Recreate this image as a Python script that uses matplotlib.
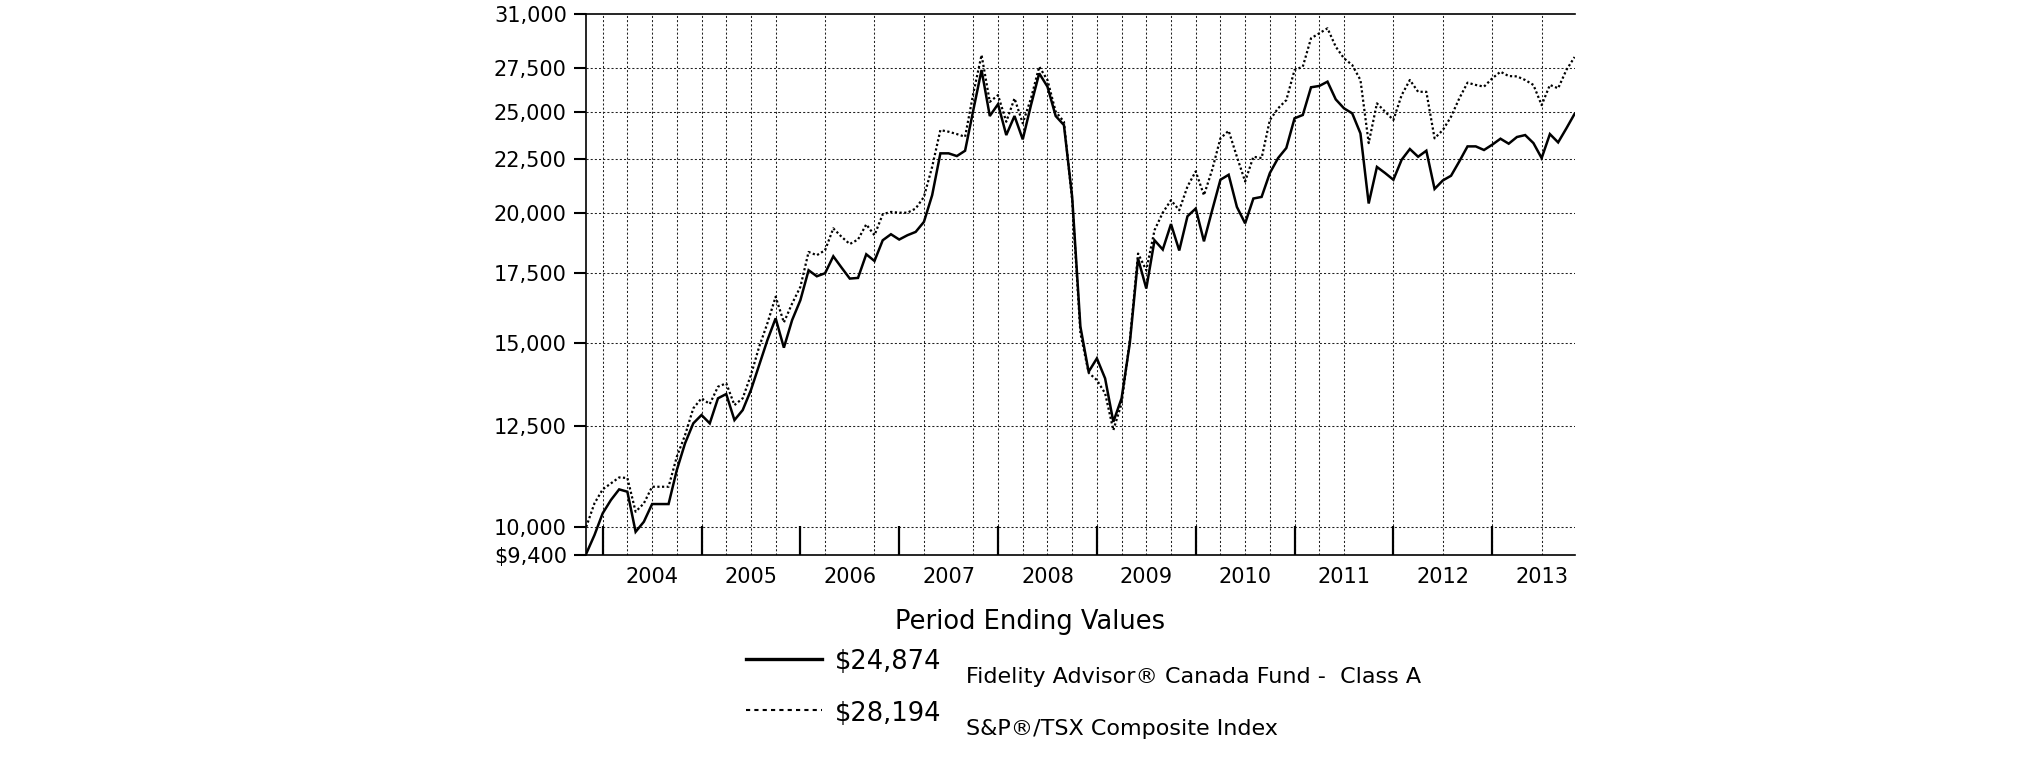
import matplotlib
matplotlib.use("Agg")
import matplotlib.pyplot as plt
from matplotlib.lines import Line2D
from matplotlib.ticker import FixedLocator, FixedFormatter, NullLocator
import numpy as np

plt.rcParams["font.family"] = ["DejaVu Sans"]

# monthly values, Oct 2003 .. Oct 2013 (month index 0..120)
fund = [9425, 9821, 10305, 10612, 10864, 10808, 9893, 10115, 10518, 10518,
        10518, 11337, 12025, 12567, 12800, 12567, 13281, 13407, 12658, 12940,
        13525, 14291, 15100, 15843, 14850, 15782, 16488, 17616, 17383, 17500,
        18166, 17719, 17295, 17320, 18247, 17980, 18820, 19072, 18850, 19030,
        19170, 19597, 20785, 22797, 22797, 22661, 22929, 25082, 27397, 24754,
        25412, 23735, 24754, 23510, 25357, 27196, 26410, 24754, 24264, 20708,
        15554, 14081, 14503, 13877, 12610, 13281, 15000, 18074, 16921, 18820,
        18439, 19505, 18400, 19843, 20184, 18776, 20110, 21507, 21745, 20255,
        19535, 20635, 20708, 21826, 22560, 23067, 24630, 24810, 26373, 26450,
        26703, 25680, 25177, 24900, 23823, 20410, 22124, 21826, 21507, 22476,
        23016, 22627, 22929, 21076, 21475, 21698, 22393, 23150, 23150, 22966,
        23236, 23545, 23288, 23634, 23735, 23320, 22560, 23787, 23355, 24087,
        24874]
index = [10000, 10533, 10864, 11008, 11154, 11140, 10342, 10533, 10927, 10927,
         10927, 11675, 12245, 12989, 13281, 13113, 13625, 13728, 13084, 13281,
         13981, 14880, 15671, 16616, 15700, 16368, 16980, 18340, 18210, 18410,
         19320, 18965, 18664, 18850, 19491, 19030, 19932, 20034, 20000, 20000,
         20184, 20708, 22126, 23998, 23910, 23787, 23645, 26023, 28319, 25540,
         25920, 24443, 25735, 24356, 25735, 27600, 26800, 24990, 24443, 20560,
         15330, 14050, 13826, 13427, 12380, 13128, 15100, 18276, 17616, 19243,
         20000, 20560, 20110, 21190, 21907, 20785, 21990, 23565, 23960, 22627,
         21426, 22627, 22560, 24537, 25177, 25640, 27397, 27600, 29382, 29707,
         30036, 28843, 28113, 27700, 26800, 23320, 25454, 24990, 24537, 25920,
         26800, 26112, 26112, 23565, 23998, 24717, 25735, 26642, 26509, 26410,
         26897, 27294, 27033, 27015, 26800, 26509, 25357, 26509, 26314, 27397,
         28194]

years = ["2004", "2005", "2006", "2007", "2008", "2009", "2010", "2011", "2012", "2013"]
year_ticks = [2, 14, 26, 38, 50, 62, 74, 86, 98, 110]      # December month-ends
year_mid = [8, 20, 32, 44, 56, 68, 80, 92, 104, 116]
grid_months = [2, 5, 8, 11, 14, 17, 20, 23, 29, 35, 41, 47, 50, 53, 56, 59, 62,
               65, 68, 71, 74, 77, 80, 83, 86, 89, 92, 98, 104, 110, 116]
yticks = [9400, 10000, 12500, 15000, 17500, 20000, 22500, 25000, 27500, 31000]
ylabels = ["$9,400", "10,000", "12,500", "15,000", "17,500", "20,000",
           "22,500", "25,000", "27,500", "31,000"]
grid_vals = [10000, 12500, 15000, 17500, 20000, 22500, 25000, 27500]

W, H = 2025, 761
fig = plt.figure(figsize=(W / 100, H / 100), dpi=100)
ax = fig.add_axes([586.2 / W, 1 - 555 / H, 988.4 / W, 541 / H])

months = np.arange(len(fund))
ax.set_yscale("log")
ax.set_xlim(0, 120)
ax.set_ylim(9400, 31000)

gs = dict(color="#222222", lw=0.75, ls=(0, (2, 2)), zorder=1)
for v in grid_vals:
    ax.axhline(v, **gs)
for m in grid_months:
    ax.axvline(m, **gs)

ax.plot(months, fund, color="black", lw=1.8, zorder=3, solid_joinstyle="miter")
ax.plot(months, index, color="black", lw=1.6, ls=(0, (1, 1.1)), zorder=4)

ax.yaxis.set_major_locator(FixedLocator(yticks))
ax.yaxis.set_major_formatter(FixedFormatter(ylabels))
ax.yaxis.set_minor_locator(NullLocator())
ax.tick_params(axis="y", which="major", direction="out", length=9, width=1.5,
               pad=5, labelsize=15)

ax.set_xticks(year_ticks)
ax.set_xticklabels([])
ax.set_xticks(year_mid, minor=True)
ax.set_xticklabels(years, minor=True)
ax.tick_params(axis="x", which="major", direction="in", length=21, width=1.6)
ax.tick_params(axis="x", which="minor", length=0, pad=8.5, labelsize=15)

ax.spines["right"].set_visible(False)
for s in ["left", "bottom", "top"]:
    ax.spines[s].set_linewidth(1.2)

# legend block
def fx(px):
    return px / W


def fy(py):
    return 1 - py / H


fig.text(fx(1030), fy(629), "Period Ending Values", fontsize=18.5,
         ha="center", va="baseline")
fig.add_artist(Line2D([fx(746), fx(822)], [fy(659)] * 2, color="black", lw=2.4))
fig.add_artist(Line2D([fx(746), fx(822)], [fy(710)] * 2, color="black", lw=1.5,
                      ls=(0, (2, 2))))
fig.text(fx(835), fy(669), "$24,874", fontsize=18.5, va="baseline")
fig.text(fx(835), fy(721), "$28,194", fontsize=18.5, va="baseline")
fig.text(fx(966), fy(683), "Fidelity Advisor\u00ae Canada Fund -  Class A",
         fontsize=16, va="baseline")
fig.text(fx(966), fy(735), "S&P\u00ae/TSX Composite Index", fontsize=16,
         va="baseline")

fig.savefig("out.png", dpi=100, facecolor="white")
